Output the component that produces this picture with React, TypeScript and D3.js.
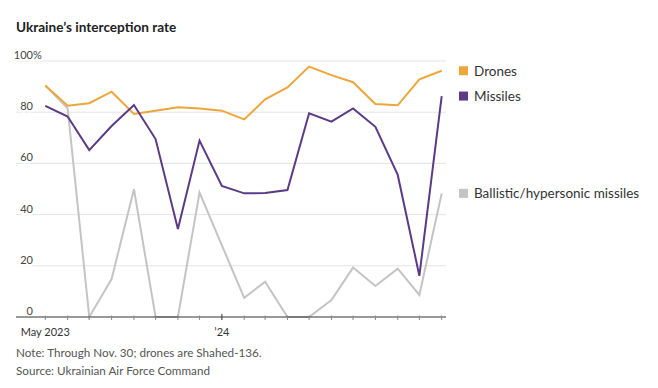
import React from 'react';
import * as d3 from 'd3';

// monthly interception rate, May 2023 – Nov 2024 (%)
const months = d3.timeMonth.range(new Date(2023, 4, 1), new Date(2024, 11, 1));
const drones = [90.4, 82.5, 83.5, 88.0, 79.3, 80.6, 81.9, 81.4, 80.6, 77.2, 85.0, 89.7, 97.8, 94.5, 91.7, 83.2, 82.7, 92.8, 96.2];
const missiles = [82.5, 78.3, 65.2, 74.6, 82.8, 69.5, 34.4, 68.9, 51.2, 48.3, 48.4, 49.6, 79.6, 76.3, 81.5, 74.3, 55.5, 16.1, 86.3];
const ballistic = [90.4, 81.5, 0, 14.8, 49.9, 0, 0, 48.6, 28.0, 7.5, 13.8, 0, 0, 6.6, 19.3, 12.1, 18.9, 8.6, 48.3];
const yTicks = [0, 20, 40, 60, 80, 100];

const seriesList = [
  { name: 'Ballistic/hypersonic missiles', values: ballistic, color: '#c4c4c4' },
  { name: 'Drones', values: drones, color: '#eea63a' },
  { name: 'Missiles', values: missiles, color: '#5b3a86' },
];

const font = 'Lato, "Noto Sans", sans-serif';

export default function App() {
  const x = d3.scaleTime()
    .domain([months[0], months[months.length - 1]])
    .range([45.3, 441.7]);
  const y = d3.scaleLinear().domain([0, 100]).range([317, 61]);

  const line = d3.line<number>()
    .x((_, i) => x(months[i]))
    .y(d => y(d));

  const left = 16;
  const right = 446;

  // y labels drawn twice: white halo first, then the text on top
  const yLabel = (t: number, halo: boolean) => {
    const props = halo
      ? { fill: '#fff', stroke: '#fff', strokeWidth: 5 }
      : { fill: '#444' };
    return (
      <g key={(halo ? 'h' : 't') + t}>
        <text x={33} y={y(t) - 2} textAnchor="end" fontSize={11} {...props}>{t}</text>
        {t === 100 && <text x={33} y={y(t) - 2} fontSize={11} {...props}>%</text>}
      </g>
    );
  };

  return (
    <svg width={658} height={388} style={{ position: 'absolute', left: 0, top: 0, background: '#fff' }}
      fontFamily={font}>
      <text x={16} y={32} fontSize={13.6} fontWeight="bold" fill="#222">Ukraine’s interception rate</text>

      {/* grid */}
      {yTicks.filter(t => t > 0).map(t => (
        <line key={t} x1={left} x2={right} y1={y(t)} y2={y(t)} stroke="#e4e4e4" strokeWidth={1} />
      ))}
      {yTicks.map(t => yLabel(t, true))}
      {yTicks.map(t => yLabel(t, false))}

      {/* lines */}
      {seriesList.map(s => (
        <path key={s.name} d={line(s.values) || ''} fill="none" stroke={s.color} strokeWidth={2} />
      ))}

      {/* x axis */}
      <line x1={left} x2={right} y1={y(0)} y2={y(0)} stroke="#333" strokeWidth={1} />
      {months.map((m, i) => {
        const major = m.getMonth() === 0;
        return (
          <line key={i} x1={x(m)} x2={x(m)} y1={y(0) - (major ? 3 : 1.5)} y2={y(0) + 3}
            stroke={major ? '#333' : '#888'} strokeWidth={1} />
        );
      })}
      <text x={x(months[0])} y={336} textAnchor="middle" fontSize={11} fill="#333">May 2023</text>
      <text x={x(new Date(2024, 0, 1))} y={336} textAnchor="middle" fontSize={11} fill="#333">’24</text>

      {/* legend at line ends */}
      {seriesList.map(s => {
        const ly = y(s.values[s.values.length - 1]);
        return (
          <g key={'lg' + s.name} transform={`translate(459,${ly})`}>
            <rect x={0} y={-4.5} width={9} height={9} fill={s.color} />
            <text x={15} y={4.8} fontSize={13.5} fill="#333">{s.name}</text>
          </g>
        );
      })}

      <text x={16} y={357} fontSize={11.7} fill="#555">Note: Through Nov. 30; drones are Shahed-136.</text>
      <text x={16} y={375} fontSize={11.7} fill="#555">Source: Ukrainian Air Force Command</text>
    </svg>
  );
}
